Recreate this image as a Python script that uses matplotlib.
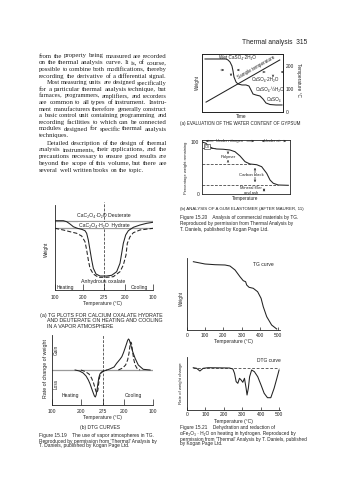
import matplotlib
matplotlib.use("Agg")
import matplotlib.pyplot as plt

W, H = 337, 480
INK = "#222222"
SANS = ["Liberation Sans", "DejaVu Sans"]
SERIF = ["Liberation Serif", "DejaVu Serif"]

plt.rcParams["font.family"] = SANS
plt.rcParams["axes.linewidth"] = 0.6
plt.rcParams["text.color"] = INK

# ---------------- data ----------------
# (a) gypsum: weight against time, plus the sample temperature ramp
gyp_time = [3.7, 29.6, 32.1, 34.6, 37.0, 38.3, 39.5, 42.0, 44.4, 49.4, 54.3, 58.0,
            60.5, 63.0, 66.7, 71.6, 75.3, 79.0, 84.0, 91.4, 98.8]
gyp_weight = [91.4, 91.4, 89.7, 86.2, 79.3, 70.7, 60.3, 51.7, 48.3, 46.6, 46.6, 44.8,
              37.9, 31.0, 29.3, 27.6, 22.4, 15.5, 12.9, 12.1, 12.1]
gyp_ramp_time = [5, 96]
gyp_ramp_temp = [43, 226]
gyp_temp_ticks = [0, 100, 200]

# (b) gum elastomer
elast_temp = [0, 4.5, 8.3, 12.2, 16.7, 24.2, 31.8, 37.5, 43.2, 48.9, 54.5, 62.2,
              67.8, 73.5, 77.3, 81.0, 86.7, 98.1]
elast_weight = [100, 97.5, 91.0, 87.9, 86.5, 86.0, 84.6, 81.3, 73.1, 62.1, 57.7, 56.3,
                52.5, 39.8, 26.9, 20.6, 17.3, 16.7]
elast_levels = [88, 57.7, 16.7]
elast_level_ends = [15, 57, 86]
elast_ticks = [0, 100]

# calcium oxalate TG, heating then cooling (position along the temperature cycle)
ox_tick_pos = [0, 100, 175, 250, 350]
ox_tick_labels = ["100", "200", "275", "200", "100"]
ox_deut_x = [0, 29.8, 41.7, 53.6, 65.5, 79.8, 95.2, 107.1, 113.1, 119.0, 125, 131,
             136.9, 146.4, 160.7, 184.5, 202.4, 220.2, 232.1, 238.1, 244.0, 252.4,
             261.9, 279.8, 303.6, 327.4, 350]
ox_deut_w = [69.3, 69.3, 68.3, 66.0, 63.3, 61.7, 60.7, 59.3, 56.7, 50, 40, 30,
             21.7, 16, 14, 14, 14.7, 18.3, 26.7, 36.7, 46.7, 55,
             59.3, 62.7, 65, 66.7, 67.7]
ox_hyd_x = [0, 29.8, 53.6, 77.4, 95.2, 107.1, 113.1, 119.0, 125, 136.9, 154.8, 184.5,
            208.3, 232.1, 244.0, 253.6, 258.3, 267.9, 279.8, 303.6, 350]
ox_hyd_w = [61.7, 60, 58.3, 56.7, 54, 48.3, 40, 30, 21.7, 16, 12.7, 12.7,
            13.3, 18.3, 25, 35, 46.7, 53.3, 57.3, 60, 61.7]
ox_deut_level = 69.3
ox_hyd_level = 61.7

# calcium oxalate DTG
dtg_deut_x = [80, 95, 108, 118, 126, 132, 138, 143, 147, 150, 153, 156, 159, 162, 166,
              172, 180, 200, 215, 224, 235, 242, 248, 253, 258, 262, 265, 268, 271,
              275, 280, 288, 299, 316, 340]
dtg_deut_r = [0, -1, -3, -6, -10, -14, -19, -23, -26, -27, -25, -20, -14, -8, -4,
              -2, -1, 1, 3, 6.7, 10.5, 13.3, 17.5, 21.7, 26, 29.5, 31, 30, 27,
              23, 18, 11.7, 5, 0.7, 0]
dtg_hyd_heat_x = [100, 115, 128, 137, 144, 149, 153, 156, 159, 162, 165, 170, 178, 190]
dtg_hyd_heat_r = [0, -1.5, -4, -8, -13, -18, -22, -23, -20, -13, -7, -3, -1, 0]
dtg_hyd_cool_x = [230, 245, 255, 262, 267, 270, 273, 276, 279, 283, 288, 295, 305]
dtg_hyd_cool_r = [0, 2, 5, 10, 17, 24, 28, 26, 19, 11, 5, 1.5, 0]

# alpha-Fe2O3.H2O in hydrogen
fe_ticks = [0, 100, 200, 300, 400, 500]
fe_temp = [35, 99, 154, 209, 236, 264, 291, 309, 322, 328, 341, 364, 388, 407, 419,
           438, 465, 493]
fe_weight = [68.3, 66, 65.3, 65, 64, 60, 53.3, 49.3, 48.3, 45, 42.7, 41.7, 38.3,
             31.7, 23.3, 13.3, 5, 1]
fe_dtg_temp = [34, 52, 70, 88, 115, 231, 249, 258, 267, 276, 285, 294, 303, 312, 321,
               326, 333, 340, 351, 366, 384, 402, 419, 437, 455, 473, 488, 500]
fe_dtg_rate = [0.3, -0.3, -3, -0.3, 0.3, 0, -1, -5.3, -13.7, -15.3, -10.3, -12, -14.3,
               -10.3, -20.3, -27, -20.3, -8.7, -2, -3.7, -8.7, -17, -25.3, -29.7,
               -29.7, -20.3, -10.3, -2]

# ---------------- layout helpers (pixel positions on the page) ----------------
fig = plt.figure(figsize=(W / 100, H / 100), dpi=100)
fig.patch.set_facecolor("white")
renderer = fig.canvas.get_renderer()


def ax_px(x0, y0, x1, y1):
    return fig.add_axes([x0 / W, 1 - y1 / H, (x1 - x0) / W, (y1 - y0) / H])


def ptext(x, y, s, size=3.6, ha="left", va="center", **kw):
    return fig.text(x / W, 1 - y / H, s, fontsize=size, ha=ha, va=va, color=INK, **kw)


def arrow(x0, y0, x1, y1, style="->", lw=0.45, ms=3):
    fig.add_artist(matplotlib.patches.FancyArrowPatch(
        (x0 / W, 1 - y0 / H), (x1 / W, 1 - y1 / H), transform=fig.transFigure,
        arrowstyle=style, lw=lw, color=INK, mutation_scale=ms))


def open_axes(ax):
    for s in ("top", "right"):
        ax.spines[s].set_visible(False)
    for s in ("left", "bottom"):
        ax.spines[s].set_color(INK)
    ax.set_yticks([])


def text_width(s, size, family):
    t = ptext(0, 0, s, size=size, family=family)
    w = t.get_window_extent(renderer).width
    t.remove()
    return w


def space_px(size):
    # a quarter-em word space
    return 0.25 * size * 100 / 72


LW = 0.75

# ---------------- page header and body text ----------------
ptext(307, 42, "Thermal analysis  315", size=4.8, ha="right")

body = [
    ("from the property being measured are recorded", 0, 56.0, True),
    ("on the thermal analysis curve. It is, of course,", 0, 62.8, True),
    ("possible to combine both modifications, thereby", 0, 69.5, True),
    ("recording the derivative of a differential signal.", 0, 76.2, True),
    ("Most measuring units are designed specifically", 1, 82.8, True),
    ("for a particular thermal analysis technique, but", 0, 89.4, True),
    ("furnaces, programmers, amplifiers, and recorders", 0, 96.0, True),
    ("are common to all types of instrument. Instru-", 0, 102.6, True),
    ("ment manufacturers therefore generally construct", 0, 109.2, True),
    ("a basic control unit containing programming and", 0, 115.8, True),
    ("recording facilities to which can be connected", 0, 122.4, True),
    ("modules designed for specific thermal analysis", 0, 129.0, True),
    ("techniques.", 0, 135.8, False),
    ("Detailed description of the design of thermal", 1, 143.2, True),
    ("analysis instruments, their applications, and the", 0, 149.9, True),
    ("precautions necessary to ensure good results are", 0, 156.6, True),
    ("beyond the scope of this volume, but there are", 0, 163.3, True),
    ("several well written books on the topic.", 0, 170.0, False),
]
X_L, X_R, INDENT = 39.0, 166.8, 7.5

# size each full line from its own word widths so it spans the column, then set words
probe = 4.5
fits = {}
for line, ind, y, just in body:
    if just:
        words = line.split()
        natural = sum(text_width(w, probe, SERIF) for w in words) \
            + (len(words) - 1) * space_px(probe)
        fits[line] = probe * (X_R - X_L - INDENT * ind) / natural
vals = sorted(fits.values())
BASE = vals[len(vals) // 2]

for line, ind, y, just in body:
    x0 = X_L + INDENT * ind
    size = min(max(fits[line], BASE * 0.9), BASE * 1.1) if just else BASE
    words = line.split()
    objs = [ptext(0, y, w, size=size, family=SERIF) for w in words]
    widths = [o.get_window_extent(renderer).width for o in objs]
    if just and len(words) > 1:
        gap = max((X_R - x0 - sum(widths)) / (len(words) - 1), 0.8)
    else:
        gap = space_px(size)
    x = x0
    for o, w in zip(objs, widths):
        o.set_position((x / W, 1 - y / H))
        x += w + gap

# ---------------- (a) gypsum ----------------
ax = ax_px(202, 54, 283, 112)
ax.plot(gyp_time, gyp_weight, color=INK, lw=LW)
ax.set_xlim(0, 100)
ax.set_ylim(0, 100)
ax.set_xticks([])
ax.set_yticks([])
for s in ax.spines.values():
    s.set_color(INK)
axt = ax.twinx()
axt.plot(gyp_ramp_time, gyp_ramp_temp, color=INK, lw=LW)
axt.set_ylim(0, 252)
axt.set_yticks(gyp_temp_ticks)
axt.set_yticklabels([str(t) for t in gyp_temp_ticks])
axt.tick_params(axis="y", length=0, pad=2, labelsize=3.5, colors=INK)
for s in axt.spines.values():
    s.set_color(INK)

ptext(197, 82, "Weight", size=3.4, rotation=90, ha="center")
ptext(298, 80, "Temperature °C", size=3.4, rotation=-90, ha="center")
ptext(241, 116, "Time", size=3.4, ha="center")
ptext(219, 57, "Wet CaSO₄·2H₂O", size=3.3)
ptext(256.5, 67.5, "Sample temperature", size=3.3, rotation=29.6, ha="center")
ptext(252, 79, "CaSO₄·2H₂O", size=3.3)
ptext(256, 89, "CaSO₄·½H₂O", size=3.3)
ptext(267, 99, "CaSO₄", size=3.3)
arrow(218, 70, 227, 70)
arrow(242, 70, 234, 70)
arrow(231, 71, 231, 79)
arrow(262, 72, 268, 72)
arrow(285, 72, 278, 72)
arrow(273, 73, 273, 80)
ptext(180, 123, "(a) EVALUATION OF THE WATER CONTENT OF GYPSUM", size=3.25)

# ---------------- (b) gum elastomer ----------------
ax = ax_px(202, 140, 290, 194)
ax.plot(elast_temp, elast_weight, color=INK, lw=LW)
for lev, end in zip(elast_levels, elast_level_ends):
    ax.plot([0, end], [lev, lev], color=INK, lw=0.5, ls=(0, (4, 2)))
ax.set_xlim(0, 100)
ax.set_ylim(0, 103.8)
ax.set_xticks([])
ax.set_yticks(elast_ticks)
ax.set_yticklabels([str(t) for t in elast_ticks])
ax.tick_params(axis="y", length=0, pad=2, labelsize=3.5, colors=INK)
for s in ax.spines.values():
    s.set_color(INK)

arrow(203, 141, 216, 141, "<-")
arrow(244, 141, 257, 141, "->")
arrow(259, 141, 264, 141, "<-")
arrow(281, 141, 289, 141, "->")
ptext(230, 141, "Under nitrogen", size=3.0, ha="center")
ptext(272.5, 141, "Under air", size=3.0, ha="center")
ptext(205, 146.5, "Oil", size=2.7,
      bbox=dict(boxstyle="square,pad=0.15", fc="white", ec=INK, lw=0.4))
arrow(228, 150, 228, 154)
arrow(228, 164, 228, 160)
ptext(228.5, 157, "Polymer", size=3.1, ha="center",
      bbox=dict(boxstyle="square,pad=0.05", fc="white", ec="none"))
arrow(255, 165, 255, 185, "<->")
ptext(251, 175, "Carbon black", size=3.1, ha="center",
      bbox=dict(boxstyle="square,pad=0.05", fc="white", ec="none"))
arrow(264, 186, 264, 194, "<->")
ptext(251, 188, "Mineral filler", size=2.9, ha="center",
      bbox=dict(boxstyle="square,pad=0.05", fc="white", ec="none"))
ptext(251, 192.5, "and ash", size=2.9, ha="center")
ptext(186, 168, "Percentage weight remaining", size=2.9, rotation=90, ha="center")
ptext(245, 198.5, "Temperature", size=3.3, ha="center")
ptext(180, 209, "(b) ANALYSIS OF A GUM ELASTOMER (AFTER MAURER, 11)", size=3.15)
ptext(180, 217, "Figure 15.20    Analysis of commercial materials by TG.", size=3.45)
ptext(180, 223.5, "Reproduced by permission from Thermal Analysis by", size=3.45)
ptext(180, 229.5, "T. Daniels, published by Kogan Page Ltd.", size=3.45)

# ---------------- calcium oxalate TG ----------------
ax = ax_px(55, 205, 153, 290)
open_axes(ax)
ax.axhline(ox_deut_level, color="#9a9a9a", lw=0.9)
ax.axhline(ox_hyd_level, color="#9a9a9a", lw=0.9)
ax.plot(ox_deut_x, ox_deut_w, color=INK, lw=LW)
ax.plot(ox_hyd_x, ox_hyd_w, color=INK, lw=LW, ls=(0, (4, 2)))
ax.axvline(175, ymin=0, ymax=1.03, color=INK, lw=0.5, ls=(0, (4, 2)), clip_on=False)
ax.set_xlim(0, 350)
ax.set_ylim(0, 85)
ax.set_xticks(ox_tick_pos)
ax.set_xticklabels(ox_tick_labels)
ax.tick_params(axis="x", direction="in", length=4.5, width=0.5, pad=3.5,
               labelsize=3.6, colors=INK)
ptext(104, 215.5, "CaC₂O₄·D₂O Deuterate", size=3.7, ha="center")
ptext(104, 225, "CaC₂O₄·H₂O  Hydrate", size=3.7, ha="center",
      bbox=dict(boxstyle="square,pad=0.05", fc="white", ec="none"))
ptext(46, 249, "Weight", size=3.5, rotation=90, ha="center")
ptext(103, 282, "Anhydrous oxalate", size=3.8, ha="center")
ptext(65, 287.5, "Heating", size=3.6, ha="center")
ptext(139, 287.5, "Cooling", size=3.6, ha="center")
ptext(102, 304, "Temperature (°C)", size=3.6, ha="center")
ptext(40, 315, "(a) TG PLOTS FOR CALCIUM OXALATE HYDRATE", size=3.75)
ptext(47, 321, "AND DEUTERATE ON HEATING AND COOLING", size=3.75)
ptext(47, 327, "IN A VAPOR ATMOSPHERE", size=3.75)

# ---------------- calcium oxalate DTG ----------------
ax = ax_px(52, 335, 153, 405)
open_axes(ax)
ax.axhline(0, color="#9a9a9a", lw=0.9)
ax.plot(dtg_deut_x, dtg_deut_r, color=INK, lw=LW)
ax.plot(dtg_hyd_heat_x, dtg_hyd_heat_r, color=INK, lw=LW, ls=(0, (4, 2)))
ax.plot(dtg_hyd_cool_x, dtg_hyd_cool_r, color=INK, lw=LW, ls=(0, (4, 2)))
ax.axvline(175, color=INK, lw=0.5, ls=(0, (4, 2)))
ax.set_xlim(0, 350)
ax.set_ylim(-35, 35)
ax.set_xticks(ox_tick_pos)
ax.set_xticklabels(ox_tick_labels)
ax.tick_params(axis="x", direction="in", length=4.5, width=0.5, pad=2.8,
               labelsize=3.6, colors=INK)
ptext(46, 368, "Rate of change of weight", size=3.8, rotation=90, ha="center")
ptext(56, 350, "Gain", size=3.4, rotation=90, ha="center")
ptext(56, 384, "Loss", size=3.4, rotation=90, ha="center")
ptext(70, 396, "Heating", size=3.6, ha="center")
ptext(133, 396, "Cooling", size=3.6, ha="center")
ptext(102, 418, "Temperature (°C)", size=3.6, ha="center")
ptext(100, 427, "(b) DTG CURVES", size=3.6, ha="center")
ptext(39, 436, "Figure 15.19    The use of vapor atmospheres in TG.", size=3.55)
ptext(39, 441, "Reproduced by permission from 'Thermal' Analysis by", size=3.55)
ptext(39, 446, "T. Daniels, published by Kogan Page Ltd.", size=3.55)

# ---------------- Fe2O3.H2O TG ----------------
ax = ax_px(187, 258, 280, 330)
open_axes(ax)
ax.plot(fe_temp, fe_weight, color=INK, lw=LW)
ax.set_xlim(0, 511)
ax.set_ylim(0, 72)
ax.set_xticks(fe_ticks)
ax.set_xticklabels([str(t) for t in fe_ticks])
ax.tick_params(axis="x", direction="in", length=2, width=0.5, pad=2.2,
               labelsize=3.5, colors=INK)
ptext(181, 298, "Weight", size=3.4, rotation=90, ha="center")
ptext(263, 265, "TG curve", size=3.6, ha="center")
ptext(233, 341.5, "Temperature (°C)", size=3.6, ha="center")

# ---------------- Fe2O3.H2O DTG ----------------
ax = ax_px(187, 357, 280, 410)
open_axes(ax)
ax.plot([fe_dtg_temp[0], fe_dtg_temp[-1]], [0, 0], color=INK, lw=0.5, ls=(0, (4, 2.5)))
ax.plot(fe_dtg_temp, fe_dtg_rate, color=INK, lw=LW)
ax.set_xlim(0, 505)
ax.set_ylim(-42, 11)
ax.set_xticks(fe_ticks)
ax.set_xticklabels([str(t) for t in fe_ticks])
ax.tick_params(axis="x", direction="in", length=2, width=0.5, pad=1.6,
               labelsize=3.5, colors=INK)
ptext(181, 383, "Rate of weight change", size=3.1, rotation=90, ha="center")
ptext(269, 360, "DTG curve", size=3.5, ha="center")
ptext(233, 421, "Temperature (°C)", size=3.6, ha="center")
ptext(180, 428, "Figure 15.21    Dehydration and reduction of", size=3.45)
ptext(180, 433.5, "αFe₂O₃ · H₂O on heating in hydrogen. Reproduced by", size=3.45)
ptext(180, 439, "permission from 'Thermal' Analysis by T. Daniels, published", size=3.45)
ptext(180, 444, "by Kogan Page Ltd.", size=3.45)

fig.savefig("out.png", dpi=100, facecolor="white")
